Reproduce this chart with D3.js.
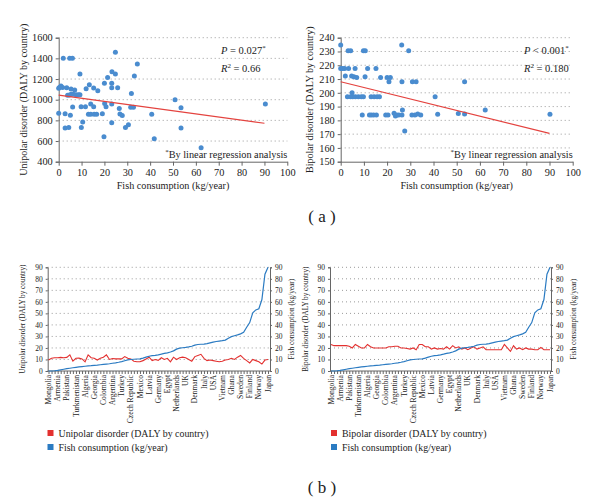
<!DOCTYPE html>
<html><head><meta charset="utf-8">
<script src="https://cdn.jsdelivr.net/npm/d3@7"></script>
<style>
body{margin:0;background:#fff;}
svg{display:block;}
text{font-family:"Liberation Serif","Times New Roman",serif;fill:#222;}
</style></head><body>
<svg id="c" width="600" height="503"></svg>
<script>
// ---------- (a) scatter data ----------
const uniX = [0,0.3,1.0,1.7,0,2.0,2.8,2.8,4.4,3.5,3.9,4.7,5.5,6.4,7.6,8.6,4.8,6.0,5.4,7.0,5.1,6.1,9.3,9.3,9.8,9.9,10.5,11.7,12.0,13.4,13.0,14.0,15.5,16.6,14.0,15.3,15.3,17.1,20.0,20.1,20.7,19.8,19.1,21.4,23.3,24.8,23.2,23.2,24.8,23.2,23.2,25.8,26.5,26.8,27.8,29.2,30.5,31.5,32.7,31.8,33.1,34.4,40.7,41.8,50.9,53.5,53.5,62.3,90.4];
const uniY = [868,1119,1132,1119,1110,1400,865,726,732,1116,1042,1045,1052,1052,1048,1048,1400,1400,1103,1094,849,929,1048,1248,932,732,784,932,1106,1145,858,858,858,858,958,932,1113,1087,1158,964,932,642,865,1216,1271,1248,1158,1116,1458,777,958,1116,916,861,848,732,758,926,926,1061,1229,1345,858,623,1000,923,726,535,958];
const bipX = [0,0,0.9,1.7,2.0,2.9,3.2,4.3,3.4,4.3,5.2,6.3,7.6,8.9,9.8,4.7,5.7,6.9,4.9,6.2,9.8,10.6,10.5,9.3,12.4,13.2,14.2,15.4,11.6,13.1,14.4,15.7,16.7,15.2,17.2,19.4,20.4,20.0,21.4,20.8,23.0,24.1,25.0,23.6,26.4,26.3,26.4,26.6,27.6,29.3,30.9,32.5,30.7,32.0,33.2,34.5,40.7,41.8,50.7,53.4,53.4,62.3,90.2];
const bipY = [234.7,217.7,217.7,217.7,212.2,197.2,230.6,230.6,217.7,197.2,197.2,197.2,197.2,197.2,197.2,212.2,211.7,211.2,200.1,217.7,230.6,230.6,211.7,183.9,183.9,183.9,183.9,183.9,217.7,197.2,197.2,197.2,197.2,217.7,211.2,183.9,183.9,211.2,211.2,208.1,185.1,183.9,183.9,183.1,183.9,234.7,208.1,187.5,172.3,230.6,208.1,208.1,183.9,183.9,184.6,183.9,197.2,184.4,185,184.6,208,187.5,184.4];
const fitX = [0, 90];
const uniFitY = [1045, 772];
const bipFitY = [208, 170.6];
const scatterXTicks = [0,10,20,30,40,50,60,70,80,90,100];
const uniYTicks = [400,600,800,1000,1200,1400,1600];
const bipYTicks = [150,160,170,180,190,200,210,220,230,240];

// ---------- (b) line data (countries sorted by fish consumption) ----------
const countryLabels = ["Mongolia","Armenia","Pakistan","Turkmenistan","Algeria","Georgia","Colombia","Argentina","Turkey","Czech Republic","Mexico","Latvia","Germany","Egypt","Netherlands","UK","Denmark","Italy","USA","Vietnam","Ghana","Sweden","Finland","Norway","Japan"];
const labelEvery = 3;
const fishKg = [0,0,0.2,0.5,1.0,1.5,2.0,2.4,2.8,3.2,3.5,3.8,4.1,4.4,4.6,4.9,5.1,5.4,5.7,6.0,6.3,6.7,7.1,7.6,8.2,8.9,9.6,10.0,10.2,10.4,10.6,11.2,12.0,12.8,13.3,13.6,14.0,14.6,15.3,15.8,16.5,17.5,19.0,19.8,20.2,20.5,20.9,21.5,22.5,23.0,23.2,23.3,23.8,24.4,25.0,25.6,26.0,26.3,26.8,28.5,29.8,30.6,31.3,32.2,33.5,38.0,42.0,50.5,53.0,54.0,62.0,84.0,90.0];
const unipolarLine = [9.5,11,11.5,11.5,11.8,11.5,11.8,14.0,8.5,11.0,11.2,10.5,8.0,14.0,11.5,11.0,9.5,11.0,12.0,14.0,10.0,10.8,10.5,10.5,10.5,12.5,11.0,10.5,8.5,8.0,8.0,9.0,10.5,12.0,9.0,10.0,9.2,11.5,10.0,11.0,8.0,12.0,10.0,11.5,12.0,11.5,10.0,8.5,12.5,13.5,14.5,11.0,9.0,9.5,9.0,8.5,8.0,8.5,9.5,10.0,11.0,10.0,12.0,13.5,11.0,9.0,7.0,10.0,9.0,8.0,6.0,9.5,10.0];
const bipolarLine = [23,22,22,22,22,22,21.5,20,23,21.5,20,20,23,21,20,20,20,20,20,21,21,21.5,21.5,20,20,19.5,19,20,18.5,23,23,21,21,19,20,19,19.5,19,21,19,22,20,21,19,20,18.5,20,21,19,20,21,18.5,18.5,18.5,18.5,18.5,18.5,23,20,17,22,19,20,18.5,20,19,19,18.5,18.5,20.5,18.5,18.5,18.5];
const lineYTicks = [0,10,20,30,40,50,60,70,80,90];

const C = {pt:"#4a8ccf", fit:"#e4433f", blue:"#2b7bc2", red:"#e3302f", axis:"#666", grid:"#9a9a9a"};
const svg = d3.select("#c");

function styleAxis(g, fs){
  g.select(".domain").attr("stroke", C.axis).attr("stroke-width",1);
  g.selectAll(".tick line").attr("stroke", C.axis);
  g.selectAll("text").attr("font-size",fs).attr("font-family","Liberation Serif").attr("fill","#222");
}

function scatter(o){
  const g = svg.append("g");
  const x = d3.scaleLinear().domain([0,100]).range([o.x0,o.x1]);
  const y = d3.scaleLinear().domain(o.yDom).range([o.yb,o.yt]);
  g.append("g").selectAll("line").data(o.yTicks.slice(1)).join("line")
    .attr("x1",x(0)).attr("x2",x(100)).attr("y1",d=>y(d)).attr("y2",d=>y(d))
    .attr("stroke",C.grid).attr("stroke-dasharray","1,3");
  const ya = g.append("g").attr("transform",`translate(${x(0)},0)`)
    .call(d3.axisLeft(y).tickValues(o.yTicks).tickFormat(d3.format("d")).tickSize(3).tickPadding(3));
  styleAxis(ya,"10.3px");
  const xa = g.append("g").attr("transform",`translate(0,${y(o.yDom[0])})`)
    .call(d3.axisBottom(x).tickValues(scatterXTicks).tickSize(4).tickSizeOuter(0).tickPadding(3));
  styleAxis(xa,"10.3px");
  g.append("g").selectAll("circle").data(o.xs.map((v,i)=>[v,o.ys[i]])).join("circle")
    .attr("cx",d=>x(d[0])).attr("cy",d=>y(d[1])).attr("r",2.5).attr("fill",C.pt);
  g.append("line").attr("x1",x(fitX[0])).attr("x2",x(fitX[1]))
    .attr("y1",y(o.fit[0])).attr("y2",y(o.fit[1])).attr("stroke",C.fit).attr("stroke-width",1.2);
  g.append("text").attr("x",(x(0)+x(100))/2).attr("y",y(o.yDom[0])+27).attr("text-anchor","middle")
    .attr("font-size","10.2px").text("Fish consumption (kg/year)");
  g.append("text").attr("transform",`translate(${o.ytx},${(o.yt+o.yb)/2}) rotate(-90)`).attr("text-anchor","middle")
    .attr("font-size","10px").text(o.ytitle);
  const t1 = g.append("text").attr("x",o.sx).attr("y",o.yt+16).attr("font-size","10.5px");
  t1.append("tspan").attr("font-style","italic").text("P");
  t1.append("tspan").text(o.pText);
  t1.append("tspan").attr("font-size","7px").attr("dy",-4).text("*");
  const t2 = g.append("text").attr("x",o.sx).attr("y",o.yt+34).attr("font-size","10.5px");
  t2.append("tspan").attr("font-style","italic").text("R");
  t2.append("tspan").attr("font-size","7px").attr("dy",-4).text("2");
  t2.append("tspan").attr("dy",4).text(o.rText);
  const t3 = g.append("text").attr("x",x(100)).attr("y",y(o.yDom[0])-4).attr("text-anchor","end").attr("font-size","10.3px");
  t3.append("tspan").attr("font-size","7px").attr("dy",-4).text("*");
  t3.append("tspan").attr("dy",4).text("By linear regression analysis");
}

scatter({x0:58.7,x1:287.3,yt:37.7,yb:161.7,yDom:[400,1600],yTicks:uniYTicks,xs:uniX,ys:uniY,fit:uniFitY,
  ytx:27,ytitle:"Unipolar disorder (DALY by country)",sx:221,pText:" = 0.027",rText:" = 0.66"});
scatter({x0:340.7,x1:572.7,yt:37.7,yb:161.7,yDom:[150,240],yTicks:bipYTicks,xs:bipX,ys:bipY,fit:bipFitY,
  ytx:313,ytitle:"Bipolar disorder (DALY by country)",sx:524,pText:" < 0.001",rText:" = 0.180"});

function lineChart(o){
  const g = svg.append("g");
  const n = fishKg.length;
  const x = d3.scaleLinear().domain([0,n-1]).range([o.p0,o.p1]);
  const y = d3.scaleLinear().domain([0,90]).range([371,267.3]);
  g.append("g").selectAll("line").data(lineYTicks.slice(1)).join("line")
    .attr("x1",o.ax0).attr("x2",o.ax1).attr("y1",d=>y(d)).attr("y2",d=>y(d))
    .attr("stroke",C.grid).attr("stroke-dasharray","1,3");
  const la = g.append("g").attr("transform",`translate(${o.ax0},0)`)
    .call(d3.axisLeft(y).tickValues(lineYTicks).tickSize(2).tickPadding(3));
  const ra = g.append("g").attr("transform",`translate(${o.ax1},0)`)
    .call(d3.axisRight(y).tickValues(lineYTicks).tickSize(2).tickPadding(3));
  styleAxis(la,"7.5px"); styleAxis(ra,"7.5px");
  const ba = g.append("g").attr("transform",`translate(0,${y(0)})`)
    .call(d3.axisBottom(x).tickValues(d3.range(n)).tickSize(3).tickSizeOuter(0).tickFormat(""));
  styleAxis(ba,"7px");
  ba.select(".domain").attr("d",`M${o.ax0},0H${o.ax1}`);
  g.append("g").selectAll("text").data(countryLabels).join("text")
    .attr("transform",(d,i)=>`translate(${x(i*labelEvery)+2.6},${y(0)+4}) rotate(-90)`)
    .attr("text-anchor","end").attr("font-size","7.6px").text(d=>d);
  const line = d3.line().x((d,i)=>x(i)).y(d=>y(d));
  g.append("path").datum(o.red).attr("d",line).attr("fill","none").attr("stroke",C.red).attr("stroke-width",1.1);
  g.append("path").datum(fishKg).attr("d",line).attr("fill","none").attr("stroke",C.blue).attr("stroke-width",1.2);
  g.append("text").attr("transform",`translate(${o.ltx},${(267.3+371)/2}) rotate(-90)`).attr("text-anchor","middle")
    .attr("font-size","7.2px").text(o.ltitle);
  g.append("text").attr("transform",`translate(${o.rtx},${(267.3+371)/2}) rotate(-90)`).attr("text-anchor","middle")
    .attr("font-size","7.3px").text("Fish consumption (kg/year)");
  const lg = g.append("g");
  [[C.red,o.ltitle,433],[C.blue,"Fish consumption (kg/year)",447]].forEach(([c,t,yy])=>{
    lg.append("rect").attr("x",o.lgx).attr("y",yy-3).attr("width",6).attr("height",6).attr("fill",c);
    lg.append("text").attr("x",o.lgx+11).attr("y",yy+3.5).attr("font-size","9.9px").text(t);
  });
}

lineChart({ax0:47.7,ax1:270,p0:48.5,p1:268,red:unipolarLine,ltitle:"Unipolar disorder (DALY by country)",ltx:25,rtx:294,lgx:47.5});
lineChart({ax0:330,ax1:551,p0:331,p1:550,red:bipolarLine,ltitle:"Bipolar disorder (DALY by country)",ltx:308,rtx:576,lgx:331});

svg.append("text").attr("x",322).attr("y",222).attr("text-anchor","middle").attr("font-family","Liberation Sans")
  .attr("font-size","17px").attr("fill","#333").attr("xml:space","preserve").text("( a )");
svg.append("text").attr("x",322).attr("y",493).attr("text-anchor","middle").attr("font-family","Liberation Sans")
  .attr("font-size","17px").attr("fill","#333").attr("xml:space","preserve").text("( b )");
</script>
</body></html>
